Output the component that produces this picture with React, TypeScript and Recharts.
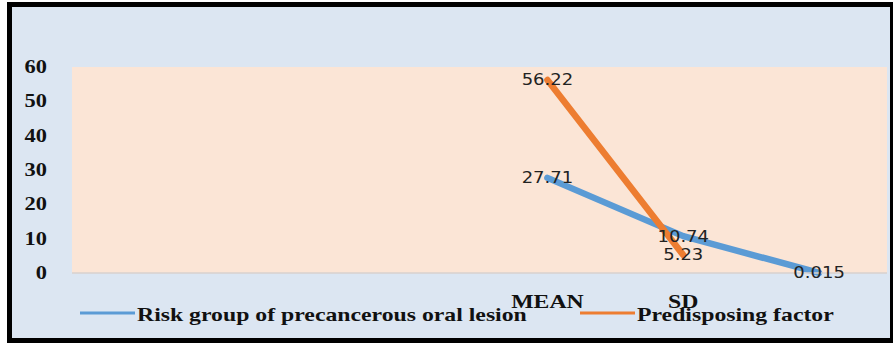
import { CartesianGrid, LabelList, Legend, Line, LineChart, XAxis, YAxis } from "recharts"

const categories = ["", "", "", "MEAN", "SD", ""]
const riskGroup = [null, null, null, 27.71, 10.74, 0.015]
const predisposing = [null, null, null, 56.22, 5.23, null]
const yTicks = [0, 10, 20, 30, 40, 50, 60]
const seriesNames = ["Risk group of precancerous oral lesion", "Predisposing factor"]

const data = categories.map((name, idx) => ({
    idx,
    name,
    risk: riskGroup[idx],
    factor: predisposing[idx],
}))

// only the labelled categories get a tick
const xTicks = categories.map((c, i) => (c ? i : -1)).filter((i) => i >= 0)

const serif = "'Liberation Serif', 'Times New Roman', serif"
const legendX = [80, 580]

function YTick({ x, y, payload }: any) {
    return (
        <g transform={`translate(${x},${y}) scale(1.18,1)`}>
            <text x={0} y={0} dy={6} textAnchor="end" fontFamily={serif} fontWeight="bold" fontSize={19} fill="#111">
                {payload.value}
            </text>
        </g>
    )
}

function XTick({ x, y, payload }: any) {
    return (
        <g transform={`translate(${x},${y}) scale(1.25,1)`}>
            <text x={0} y={35} textAnchor="middle" fontFamily={serif} fontWeight="bold" fontSize={19} fill="#111">
                {categories[payload.value]}
            </text>
        </g>
    )
}

function ValueLabel(props: any) {
    const { value } = props
    if (value == null) return null
    const x = props.x ?? props.viewBox?.x
    const y = props.y ?? props.viewBox?.y
    return (
        <g transform={`translate(${x},${y}) scale(1.2,1)`}>
            <text x={0} y={0} dy="0.36em" textAnchor="middle" fontFamily="'DejaVu Sans', sans-serif" fontSize={15} fill="#222">
                {value}
            </text>
        </g>
    )
}

function LegendContent({ payload }: any) {
    return (
        <svg width={893} height={30} style={{ display: "block" }}>
            {(payload || []).map((entry: any) => {
                const i = Math.max(0, seriesNames.indexOf(entry.value))
                return (
                    <g key={entry.value}>
                        <line x1={legendX[i]} x2={legendX[i] + 55} y1={15} y2={15} stroke={entry.color} strokeWidth={3} />
                        <g transform={`translate(${legendX[i] + 57},23) scale(1.25,1)`}>
                            <text x={0} y={0} fontFamily={serif} fontWeight="bold" fontSize={19} fill="#111">
                                {entry.value}
                            </text>
                        </g>
                    </g>
                )
            })}
        </svg>
    )
}

export default function App() {
    return (
        <div style={{ position: "absolute", left: 0, top: 0, width: 893, height: 343, overflow: "hidden", background: "#fff" }}>
            <div
                style={{
                    position: "absolute",
                    left: 7,
                    top: 2,
                    width: 888,
                    height: 341,
                    border: "5px solid #000",
                    boxSizing: "border-box",
                    background: "#DCE6F2",
                }}
            />
            <div style={{ position: "absolute", left: 0, top: 0 }}>
                <LineChart width={893} height={343} data={data} margin={{ top: 67, right: 6, bottom: 40, left: 0 }}>
                    <CartesianGrid horizontal={false} vertical={false} fill="#FBE5D6" stroke="none" />
                    <XAxis
                        dataKey="idx"
                        type="number"
                        domain={[-0.5, categories.length - 0.5]}
                        ticks={xTicks}
                        interval={0}
                        height={30}
                        tickSize={0}
                        tickMargin={0}
                        tick={<XTick />}
                        axisLine={{ stroke: "#D8D0CE", strokeWidth: 1.5 }}
                        tickLine={false}
                    />
                    <YAxis
                        width={72}
                        domain={[0, 60]}
                        ticks={yTicks}
                        tickSize={0}
                        tickMargin={25}
                        tick={<YTick />}
                        axisLine={false}
                        tickLine={false}
                    />
                    <Legend
                        layout="horizontal"
                        verticalAlign="middle"
                        align="center"
                        content={<LegendContent />}
                        wrapperStyle={{ left: 0, top: 298, width: 893, height: 30 }}
                    />
                    <Line
                        name={seriesNames[0]}
                        dataKey="risk"
                        stroke="#5B9BD5"
                        strokeWidth={6.5}
                        strokeLinecap="round"
                        strokeLinejoin="round"
                        dot={false}
                        activeDot={false}
                        isAnimationActive={false}
                    >
                        <LabelList dataKey="risk" content={ValueLabel} />
                    </Line>
                    <Line
                        name={seriesNames[1]}
                        dataKey="factor"
                        stroke="#ED7D31"
                        strokeWidth={6.5}
                        strokeLinecap="round"
                        strokeLinejoin="round"
                        dot={false}
                        activeDot={false}
                        isAnimationActive={false}
                    >
                        <LabelList dataKey="factor" content={ValueLabel} />
                    </Line>
                </LineChart>
            </div>
        </div>
    )
}
